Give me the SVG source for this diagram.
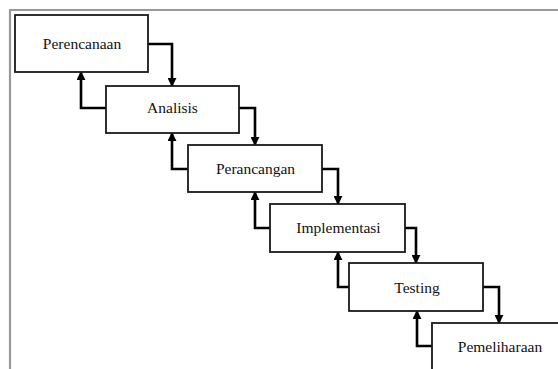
<svg xmlns="http://www.w3.org/2000/svg" width="558" height="369" viewBox="0 0 558 369">
<style>
.box{fill:#fff;stroke:#1a1a1a;stroke-width:1.8}
.lbl{font-family:"Liberation Serif","Times New Roman",serif;font-size:15.5px;fill:#111;text-anchor:middle}
.con{fill:none;stroke:#000;stroke-width:2.6;marker-end:url(#ah)}
.frame{fill:none;stroke:#999;stroke-width:2.2}
</style>
<defs>
<marker id="ah" viewBox="0 0 10 10" refX="9" refY="5" markerUnits="userSpaceOnUse" markerWidth="9" markerHeight="9" orient="auto">
<path d="M0,0 L10,5 L0,10 Z" fill="#000"/>
</marker>
</defs>
<rect width="558" height="369" fill="#fff"/>
<path class="frame" d="M10,369 V10 H558"/>
<g id="connectors">
<path class="con" d="M148,44 H172 V86"/>
<path class="con" d="M239,108 H255 V145"/>
<path class="con" d="M322,169 H338 V204"/>
<path class="con" d="M405,228 H416 V263"/>
<path class="con" d="M483,287 H499 V323"/>
<path class="con" d="M106,108 H81 V72"/>
<path class="con" d="M188,169 H172 V133"/>
<path class="con" d="M270,228 H255 V192"/>
<path class="con" d="M349,287 H338 V252"/>
<path class="con" d="M432,346 H417 V311"/>
</g>
<g id="perencanaan"><rect class="box" x="15" y="15" width="133" height="57"/><text class="lbl" x="82" y="49">Perencanaan</text></g>
<g id="analisis"><rect class="box" x="106" y="86" width="133" height="47"/><text class="lbl" x="172.5" y="113">Analisis</text></g>
<g id="perancangan"><rect class="box" x="188" y="145" width="134" height="47"/><text class="lbl" x="255.5" y="174">Perancangan</text></g>
<g id="implementasi"><rect class="box" x="270" y="204" width="135" height="48"/><text class="lbl" x="338.5" y="233">Implementasi</text></g>
<g id="testing"><rect class="box" x="349" y="263" width="134" height="48"/><text class="lbl" x="417" y="293">Testing</text></g>
<g id="pemeliharaan"><rect class="box" x="432" y="323" width="140" height="60"/><text class="lbl" x="500" y="352">Pemeliharaan</text></g>
</svg>
